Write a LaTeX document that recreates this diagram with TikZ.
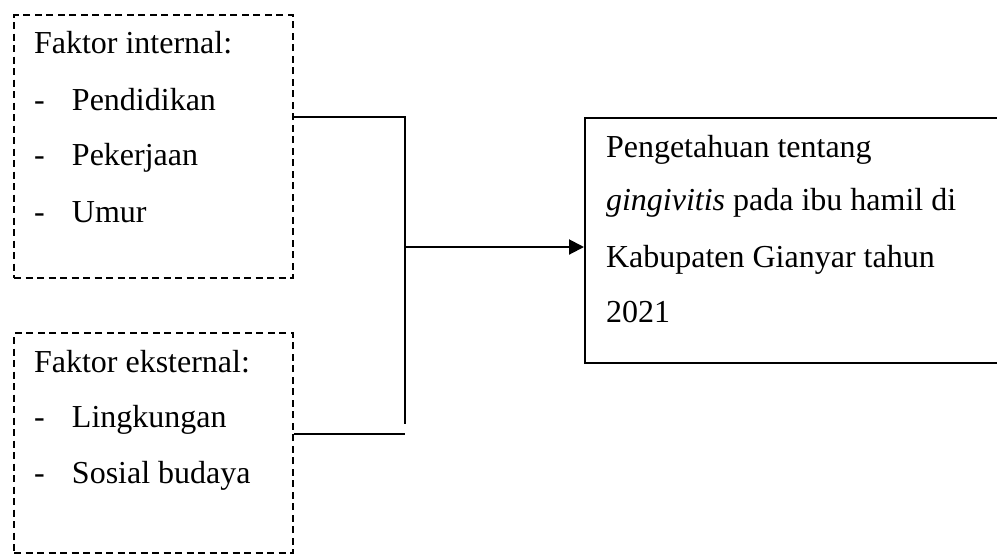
\documentclass[tikz,border=0pt]{standalone}
\usepackage{fontspec}
\setmainfont{Liberation Serif}
\usetikzlibrary{arrows.meta}
\tikzset{
  txt/.style={anchor=base west, inner sep=0pt, font=\fontsize{16pt}{19pt}\selectfont},
  dashbox/.style={draw, dash pattern=on 3.5pt off 2.25pt, line width=1pt, anchor=north west, inner sep=0pt},
  solidbox/.style={draw, line width=1pt, anchor=north west, inner sep=0pt},
}
\newcommand{\butir}[1]{\makebox[19pt][l]{-}#1}
\begin{document}
\begin{tikzpicture}[x=0.5pt,y=-0.5pt,line width=1pt]
\useasboundingbox (0,0) rectangle (997,554);
\clip (0,0) rectangle (997,554);
\node[dashbox, minimum width=139.5pt, minimum height=131.5pt] (internal) at (13,14) {};
\node[dashbox, minimum width=139.5pt, minimum height=110pt] (external) at (13,332) {};
\node[solidbox, minimum width=215pt, minimum height=122.5pt] (hasil) at (584,117) {};
\node[txt] (int0) at (33,53) {Faktor internal:};
\node[txt] (int1) at (33,110) {\butir{Pendidikan}};
\node[txt] (int2) at (33,165) {\butir{Pekerjaan}};
\node[txt] (int3) at (33,222) {\butir{Umur}};
\node[txt] (ext0) at (33,372) {Faktor eksternal:};
\node[txt] (ext1) at (33,427) {\butir{Lingkungan}};
\node[txt] (ext2) at (33,483) {\butir{Sosial budaya}};
\node[txt] (has0) at (605,157) {Pengetahuan tentang};
\node[txt] (has1) at (605,210) {\textit{gingivitis} pada ibu hamil di};
\node[txt] (has2) at (605,267) {Kabupaten Gianyar tahun};
\node[txt] (has3) at (605,322) {2021};
% garis penghubung
\coordinate (j1) at (405,117);
\coordinate (j2) at (405,434);
\coordinate (j3) at (405,424);
\coordinate (jm) at (405,247);
\draw (internal.east |- j1) -- (j1) -- (j3);
\draw (external.east |- j2) -- (j2);
\draw[-{Triangle[length=7.5pt,width=7.5pt]}] (jm) -- (hasil.west |- jm);
\end{tikzpicture}
\end{document}
